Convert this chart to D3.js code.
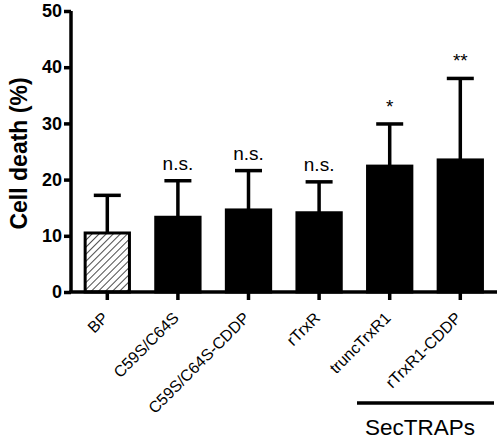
<!DOCTYPE html>
<html><head><meta charset="utf-8">
<script src="https://cdn.jsdelivr.net/npm/d3@7"></script>
<style>body{margin:0;background:#fff}svg{display:block}</style>
</head><body>
<svg id="c" width="498" height="439"></svg>
<script>
const categories = ["BP","C59S/C64S","C59S/C64S-CDDP","rTrxR","truncTrxR1","rTrxR1-CDDP"];
const means = [10.5, 13.3, 14.6, 14.1, 22.4, 23.5];
const errTops = [17.2, 19.8, 21.6, 19.6, 29.9, 38.0];
const marks = ["", "n.s.", "n.s.", "n.s.", "*", "**"];
const yTicks = [0,10,20,30,40,50];
const groupLabel = "SecTRAPs";
const groupMembers = ["truncTrxR1","rTrxR1-CDDP"];

const FONT = "Liberation Sans, Arial, sans-serif";
const svg = d3.select("#c");
const x0 = 71, x1 = 497, yTop = 11, yBot = 292;
const y = d3.scaleLinear().domain([0,50]).range([yBot, yTop]);
const x = d3.scaleBand().domain(categories).range([x0+1, x0+1+70.6*6]).paddingInner(0.33).paddingOuter(0.165);

const defs = svg.append("defs");
const pat = defs.append("pattern").attr("id","hatch").attr("patternUnits","userSpaceOnUse")
  .attr("width",5).attr("height",5).attr("patternTransform","rotate(45)");
pat.append("rect").attr("width",5).attr("height",5).attr("fill","#fff");
pat.append("line").attr("x1",0).attr("y1",0).attr("x2",0).attr("y2",5).attr("stroke","#000").attr("stroke-width",1.4);

const g = svg.append("g");
const capW = 27;
categories.forEach((c,i)=>{
  const cx = x(c)+x.bandwidth()/2;
  g.append("line").attr("x1",cx).attr("x2",cx).attr("y1",y(means[i])).attr("y2",y(errTops[i])).attr("stroke","#000").attr("stroke-width",3.5);
  g.append("line").attr("x1",cx-capW/2).attr("x2",cx+capW/2).attr("y1",y(errTops[i])).attr("y2",y(errTops[i])).attr("stroke","#000").attr("stroke-width",3.5);
  if (marks[i]) {
    g.append("text").attr("x",cx).attr("y",y(errTops[i])-11)
      .attr("text-anchor","middle").attr("font-family",FONT)
      .attr("font-size",19).text(marks[i]);
  }
});
g.selectAll("rect.bar").data(categories).join("rect").attr("class","bar")
  .attr("x",d=>x(d)+1.5).attr("width",x.bandwidth()-3)
  .attr("y",(d,i)=>y(means[i])).attr("height",(d,i)=>yBot-y(means[i]))
  .attr("fill",(d,i)=>i===0?"url(#hatch)":"#000")
  .attr("stroke","#000").attr("stroke-width",3);

const yAx = svg.append("g").attr("transform",`translate(${x0},0)`)
  .call(d3.axisLeft(y).tickValues(yTicks).tickSize(7).tickPadding(2));
yAx.select(".domain").attr("stroke-width",3.5).attr("d",`M0,${yTop}V${yBot}`);
yAx.selectAll(".tick line").attr("stroke-width",3.5);
yAx.selectAll("text").attr("font-family",FONT).attr("font-weight","bold").attr("font-size",18).attr("fill","#000");

const xAx = svg.append("g").attr("transform",`translate(0,${yBot})`)
  .call(d3.axisBottom(x).tickSize(8).tickSizeOuter(0).tickFormat(""));
xAx.select(".domain").attr("stroke-width",3.5).attr("d",`M${x0-1.7},0H${x1}`);
xAx.selectAll(".tick line").attr("stroke-width",3.5);
xAx.selectAll(".tick text").remove();

svg.append("g").selectAll("text").data(categories).join("text")
  .attr("font-family",FONT).attr("font-size",16).attr("fill","#000")
  .attr("text-anchor","end").attr("x",0).attr("y",0)
  .attr("transform",d=>`translate(${x(d)+x.bandwidth()/2+2},${yBot+27}) rotate(-45)`)
  .text(d=>d);

svg.append("text").attr("transform",`translate(27,${(yTop+yBot)/2+2}) rotate(-90)`)
  .attr("text-anchor","middle").attr("font-family",FONT).attr("font-weight","bold").attr("font-size",23).text("Cell death (%)");

const gx1 = 357, gx2 = 494;
svg.append("line").attr("x1",gx1).attr("x2",gx2).attr("y1",403).attr("y2",403).attr("stroke","#000").attr("stroke-width",3.5);
svg.append("text").attr("x",420).attr("y",435).attr("text-anchor","middle")
  .attr("font-family",FONT).attr("font-size",22.5).text(groupLabel);
</script>
</body></html>
